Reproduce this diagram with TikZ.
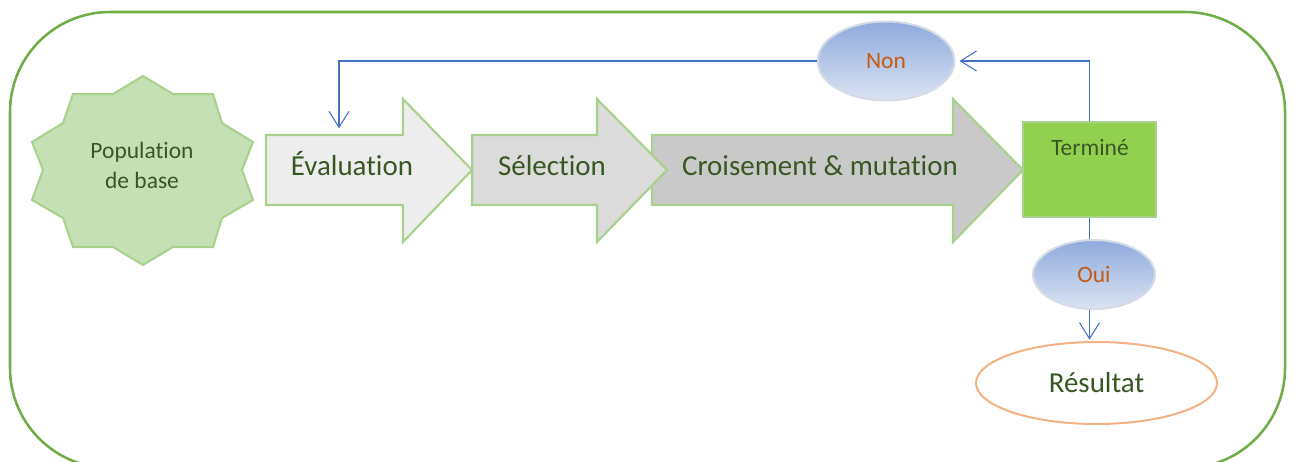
\documentclass[tikz,border=0pt]{standalone}
\usepackage{fontspec}
\setmainfont{Carlito}[Ligatures=NoCommon]
\usetikzlibrary{arrows.meta,shapes.geometric}
\definecolor{frameg}{HTML}{70AD47}
\definecolor{lightg}{HTML}{A9D18E}
\definecolor{starfill}{HTML}{C5E0B4}
\definecolor{txtg}{HTML}{385723}
\definecolor{ev}{HTML}{EDEDED}
\definecolor{se}{HTML}{DBDBDB}
\definecolor{cr}{HTML}{C9C9C9}
\definecolor{termg}{HTML}{92D050}
\definecolor{bluetop}{HTML}{8FAADC}
\definecolor{bluebot}{HTML}{DAE3F3}
\definecolor{blueedge}{HTML}{D6DCE5}
\definecolor{conn}{HTML}{4472C4}
\definecolor{orangetxt}{HTML}{C55A11}
\definecolor{resedge}{HTML}{F4B183}
\tikzset{
  bigtxt/.style={font=\fontsize{21.7pt}{26pt}\selectfont, text=txtg, inner sep=0pt, anchor=base},
  smalltxt/.style={font=\fontsize{17.6pt}{22.5pt}\selectfont, text=txtg, inner sep=0pt},
  arrowshape/.style={draw=lightg, line width=1.6pt, line join=miter},
  decision/.style={ellipse, draw=blueedge, line width=1.5pt, top color=bluetop, bottom color=bluebot,
    inner sep=0pt, font=\fontsize{17.6pt}{21pt}\selectfont, text=orangetxt},
  connector/.style={draw=conn, line width=0.8pt},
  tip/.style={-{Straight Barb[length=12pt,width=15pt,line width=0.8pt]}},
}
\begin{document}
\begin{tikzpicture}[x=0.75pt,y=-0.75pt]
\useasboundingbox (0,0) rectangle (1294,461);
% frame
\draw[frameg, line width=1.9pt, rounded corners=75] (10,12) rectangle (1285,468);
% star
\draw[fill=starfill, draw=lightg, line width=1.5pt, line join=miter]
  (143,76) -- (173,94) -- (213,94) -- (222,123) -- (253,142) -- (242,170) -- (253,200)
  -- (222,218) -- (213,247) -- (173,247) -- (143,265) -- (113,247) -- (73,247)
  -- (63,218) -- (32,200) -- (43,170) -- (32,142) -- (63,123) -- (73,94) -- (113,94) -- cycle;
\node[smalltxt, align=center, anchor=base] (pop) at (142,188) {Population\\de base};
% croisement arrow (drawn first)
\draw[arrowshape, fill=cr] (652,135) -- (953,135) -- (953,99) -- (1023,170) -- (953,242) -- (953,205) -- (652,205) -- cycle;
% evaluation arrow
\draw[arrowshape, fill=ev] (266,135) -- (403,135) -- (403,99) -- (472,170) -- (403,242) -- (403,205) -- (266,205) -- cycle;
% selection arrow
\draw[arrowshape, fill=se] (472,135) -- (597,135) -- (597,99) -- (667,170) -- (597,242) -- (597,205) -- (472,205) -- cycle;
\node[bigtxt] (eval) at (352,175) {Évaluation};
\node[bigtxt] (sel) at (552,175) {Sélection};
\node[bigtxt] (crois) at (820,175) {Croisement \& mutation};
\coordinate (evaltop) at (339,135);
% termine
\node[rectangle, draw=lightg, line width=1.5pt, fill=termg, minimum width=133*0.75pt, minimum height=95*0.75pt] (term) at (1089.5,169.5) {};
\node[smalltxt, anchor=base] (termtxt) at (1090,155) {Terminé};
% decisions
\node[decision, minimum width=137*0.75pt, minimum height=79*0.75pt] (non) at (886,61) {Non};
\node[decision, minimum width=122*0.75pt, minimum height=69*0.75pt] (oui) at (1094,274.5) {Oui};
% result
\node[ellipse, draw=resedge, line width=1.5pt, fill=white, minimum width=241*0.75pt, minimum height=82*0.75pt,
  font=\fontsize{21.7pt}{26pt}\selectfont, text=txtg] (res) at (1096.5,383) {Résultat};
% connectors
\draw[connector, tip, shorten >=3pt] (term.north) |- (non.east);
\draw[connector, tip, shorten >=5pt] (non.west) -| (evaltop);
\draw[connector] (term.south) -- (term.south |- oui.north);
\draw[connector, tip, shorten >=1pt] (term.south |- oui.south) -- (term.south |- res.north);
\end{tikzpicture}
\end{document}
